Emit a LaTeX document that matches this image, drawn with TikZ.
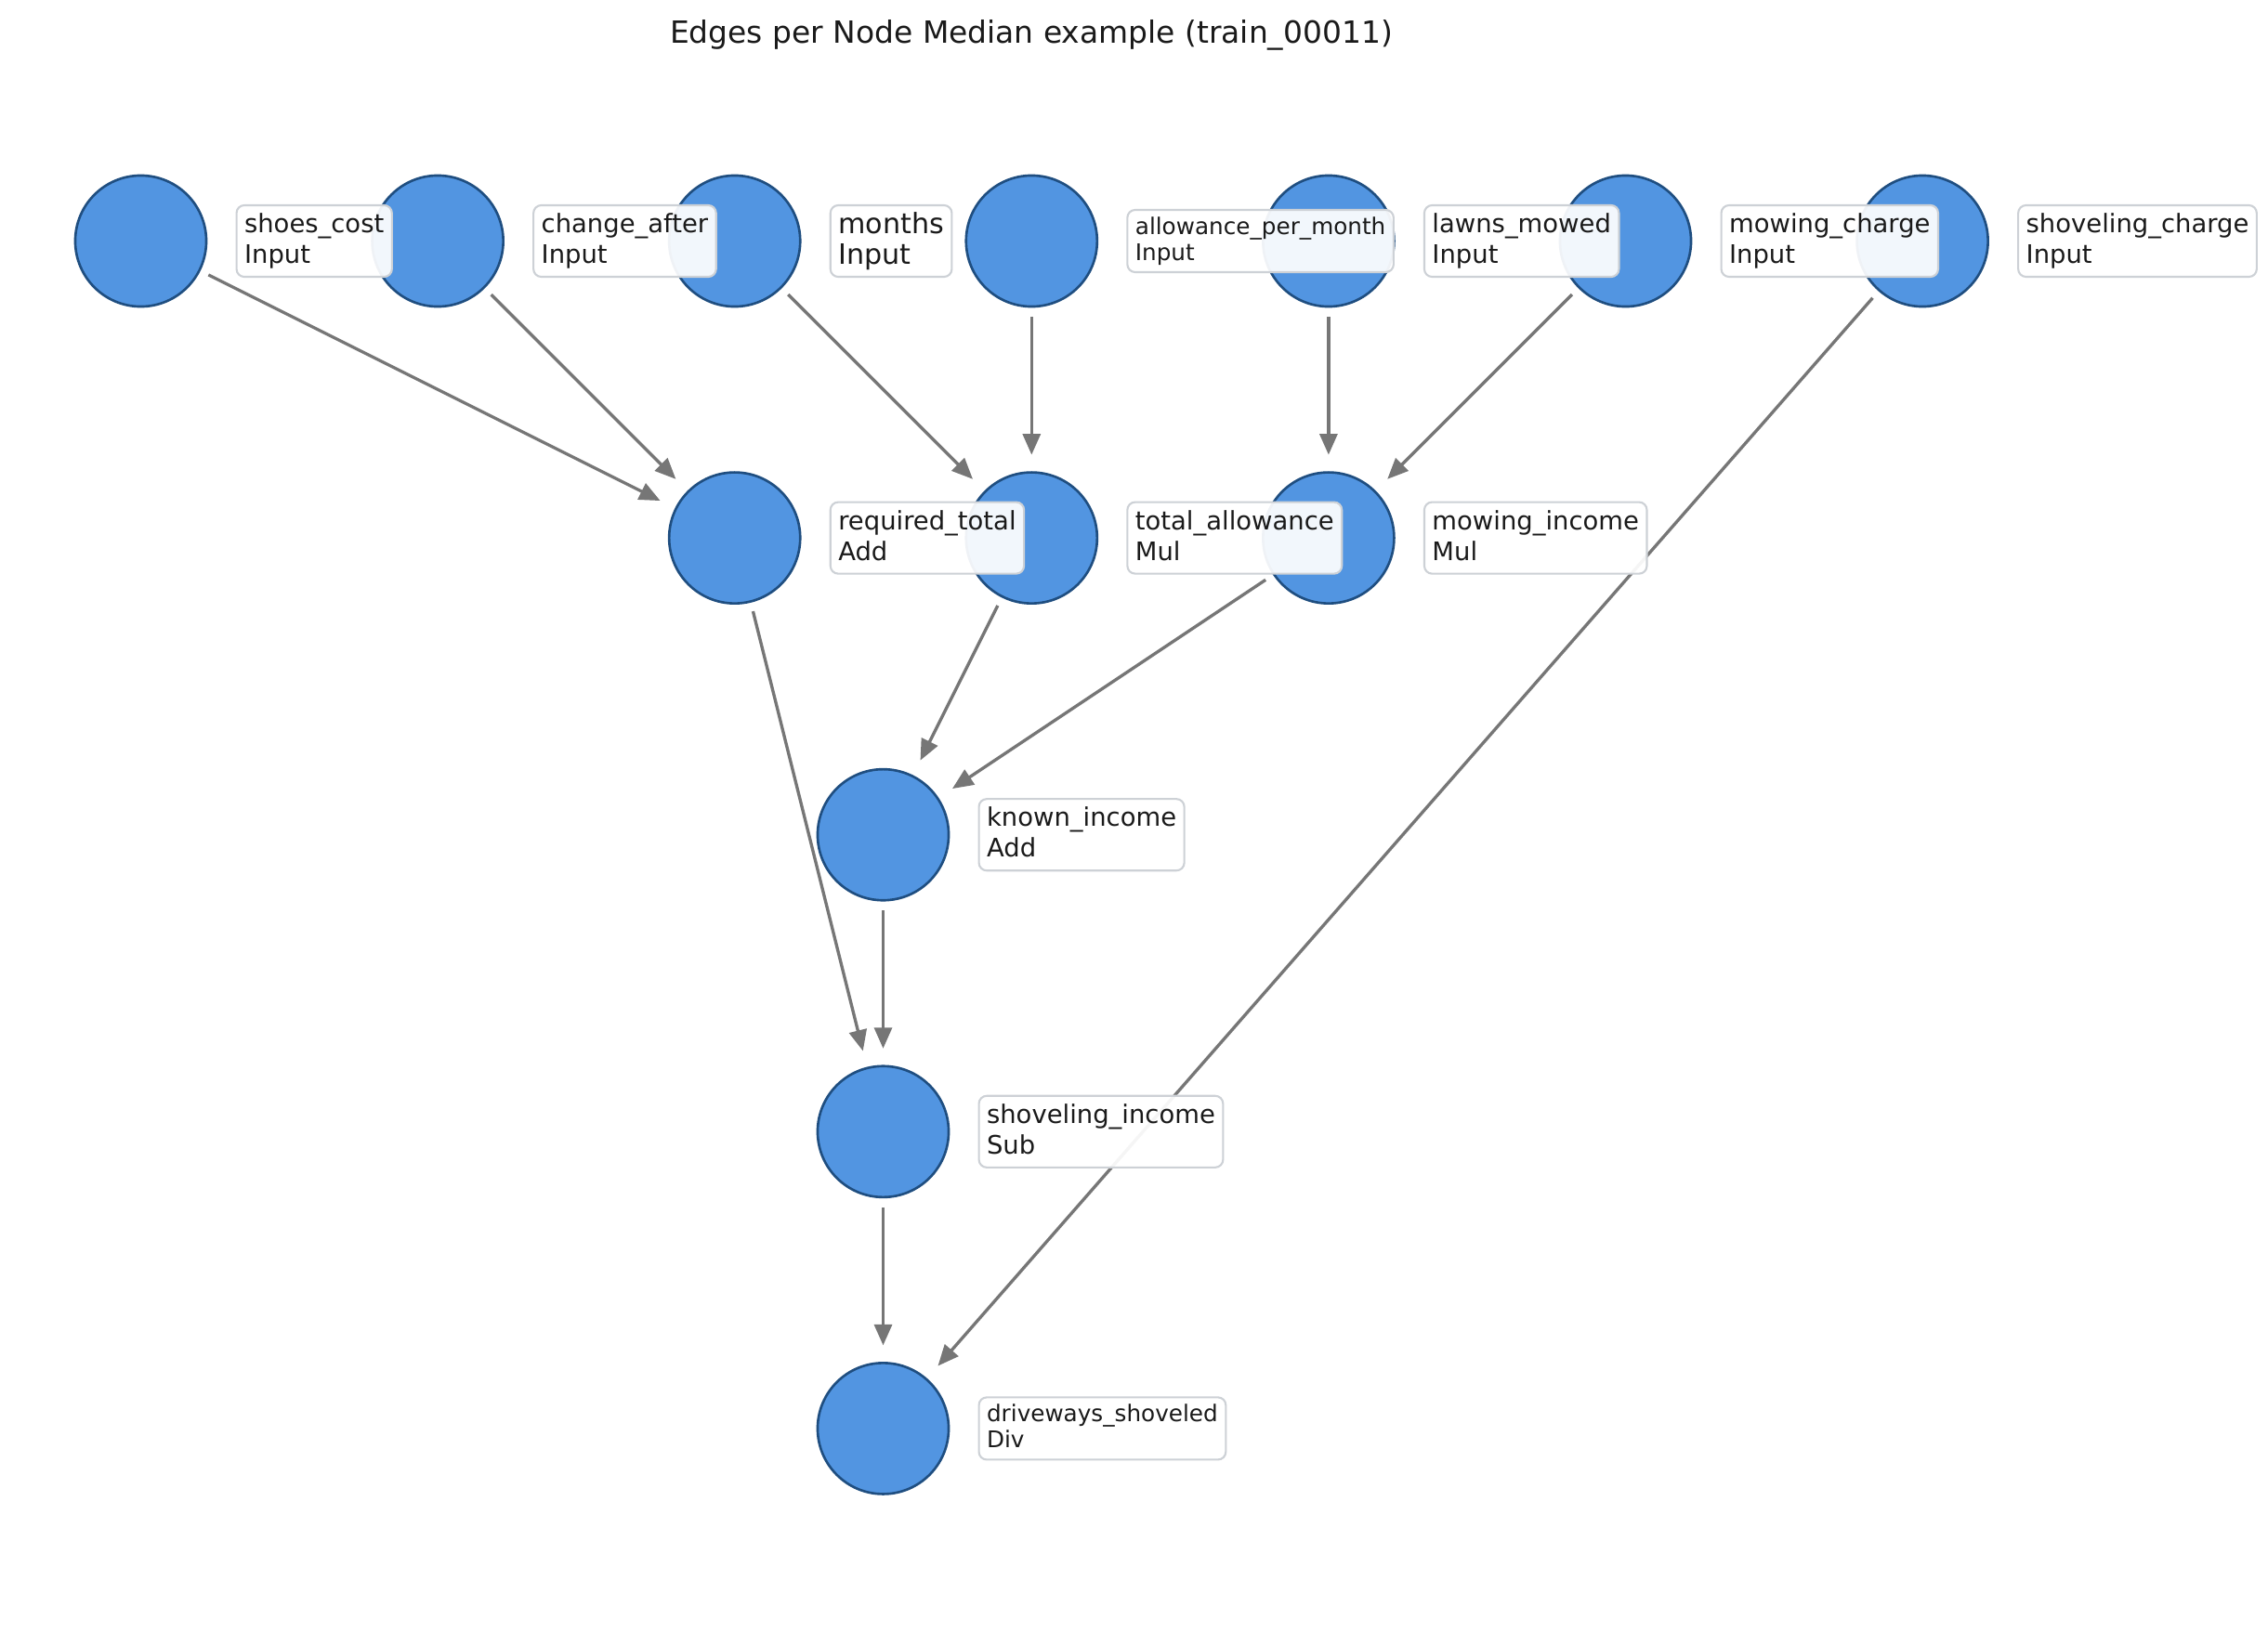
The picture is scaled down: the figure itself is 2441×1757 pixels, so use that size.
\documentclass[tikz,border=0pt]{standalone}
\usepackage{fontspec}
\setmainfont{DejaVu Sans}
\usetikzlibrary{arrows.meta}
\definecolor{nodefill}{HTML}{5295E1}
\definecolor{nodeedge}{HTML}{1F4E80}
\definecolor{edgegray}{HTML}{767676}
\definecolor{boxedge}{HTML}{CDD1D6}
\definecolor{txt}{HTML}{1A1A1A}
\newcommand\twoline[2]{\vphantom{x}#1\\\vphantom{hp}#2}
\begin{document}
\begin{tikzpicture}[x=0.01cm,y=-0.01cm,
 vtx/.style={circle,draw=nodeedge,fill=nodefill,line width=0.75pt,minimum size=1.41cm,inner sep=0pt,outer sep=0pt},
 lbl/.style={anchor=west,draw=boxedge,fill=white,fill opacity=0.93,text opacity=1,line width=0.6pt,rounded corners=2.4pt,align=left,inner xsep=0.085cm,inner ysep=0pt,minimum height=0.77cm,text=txt,font=\fontsize{7.8pt}{9.47pt}\selectfont},
 lblsm/.style={lbl,minimum height=0.67cm,font=\fontsize{7.02pt}{8.05pt}\selectfont},
 lblbig/.style={lbl,font=\fontsize{8.58pt}{9.47pt}\selectfont},
 conn/.style={draw=edgegray,line width=0.95pt,line join=round,-{Triangle[length=6.4pt,width=5.4pt]},shorten <=3.1pt,shorten >=5.4pt}
]
\path[fill=white] (0,0) rectangle (2441,1757);
\node[text=txt,font=\fontsize{9.36pt}{11pt}\selectfont,anchor=base] (title) at (1110,46) {Edges per Node Median example (train\_00011)};
% circles
\node[vtx] (shoes) at (151.5,259.5) {};
\node[vtx] (change) at (471.1,259.5) {};
\node[vtx] (months) at (790.7,259.5) {};
\node[vtx] (allow) at (1110.3,259.5) {};
\node[vtx] (lawns) at (1429.9,259.5) {};
\node[vtx] (mowc) at (1749.5,259.5) {};
\node[vtx] (shovc) at (2069.1,259.5) {};
\node[vtx] (reqt) at (790.7,579.1) {};
\node[vtx] (tota) at (1110.3,579.1) {};
\node[vtx] (mowi) at (1429.9,579.1) {};
\node[vtx] (known) at (950.5,898.7) {};
\node[vtx] (shovi) at (950.5,1218.3) {};
\node[vtx] (drive) at (950.5,1537.9) {};
% connectors
\draw[conn] (shoes) -- (reqt);
\draw[conn] (change) -- (reqt);
\draw[conn] (months) -- (tota);
\draw[conn] (allow) -- (tota);
\draw[conn] (lawns) -- (mowi);
\draw[conn] (mowc) -- (mowi);
\draw[conn] (shovc) -- (drive);
\draw[conn] (reqt) -- (shovi);
\draw[conn] (tota) -- (known);
\draw[conn] (mowi) -- (known);
\draw[conn] (known) -- (shovi);
\draw[conn] (shovi) -- (drive);
% labels
\node[lbl] (lshoes) at (253.5,259.5) {\twoline{shoes\_cost}{Input}};
\node[lbl] (lchange) at (573.1,259.5) {\twoline{change\_after}{Input}};
\node[lblbig] (lmonths) at (892.7,259.5) {\twoline{months}{Input}};
\node[lblsm] (lallow) at (1212.3,259.5) {\twoline{allowance\_per\_month}{Input}};
\node[lbl] (llawns) at (1531.9,259.5) {\twoline{lawns\_mowed}{Input}};
\node[lbl] (lmowc) at (1851.5,259.5) {\twoline{mowing\_charge}{Input}};
\node[lbl] (lshovc) at (2171.1,259.5) {\twoline{shoveling\_charge}{Input}};
\node[lbl] (lreqt) at (892.7,579.1) {\twoline{required\_total}{Add}};
\node[lbl] (ltota) at (1212.3,579.1) {\twoline{total\_allowance}{Mul}};
\node[lbl] (lmowi) at (1531.9,579.1) {\twoline{mowing\_income}{Mul}};
\node[lbl] (lknown) at (1052.5,898.7) {\twoline{known\_income}{Add}};
\node[lbl] (lshovi) at (1052.5,1218.3) {\twoline{shoveling\_income}{Sub}};
\node[lblsm] (ldrive) at (1052.5,1537.9) {\twoline{driveways\_shoveled}{Div}};
\end{tikzpicture}
\end{document}
